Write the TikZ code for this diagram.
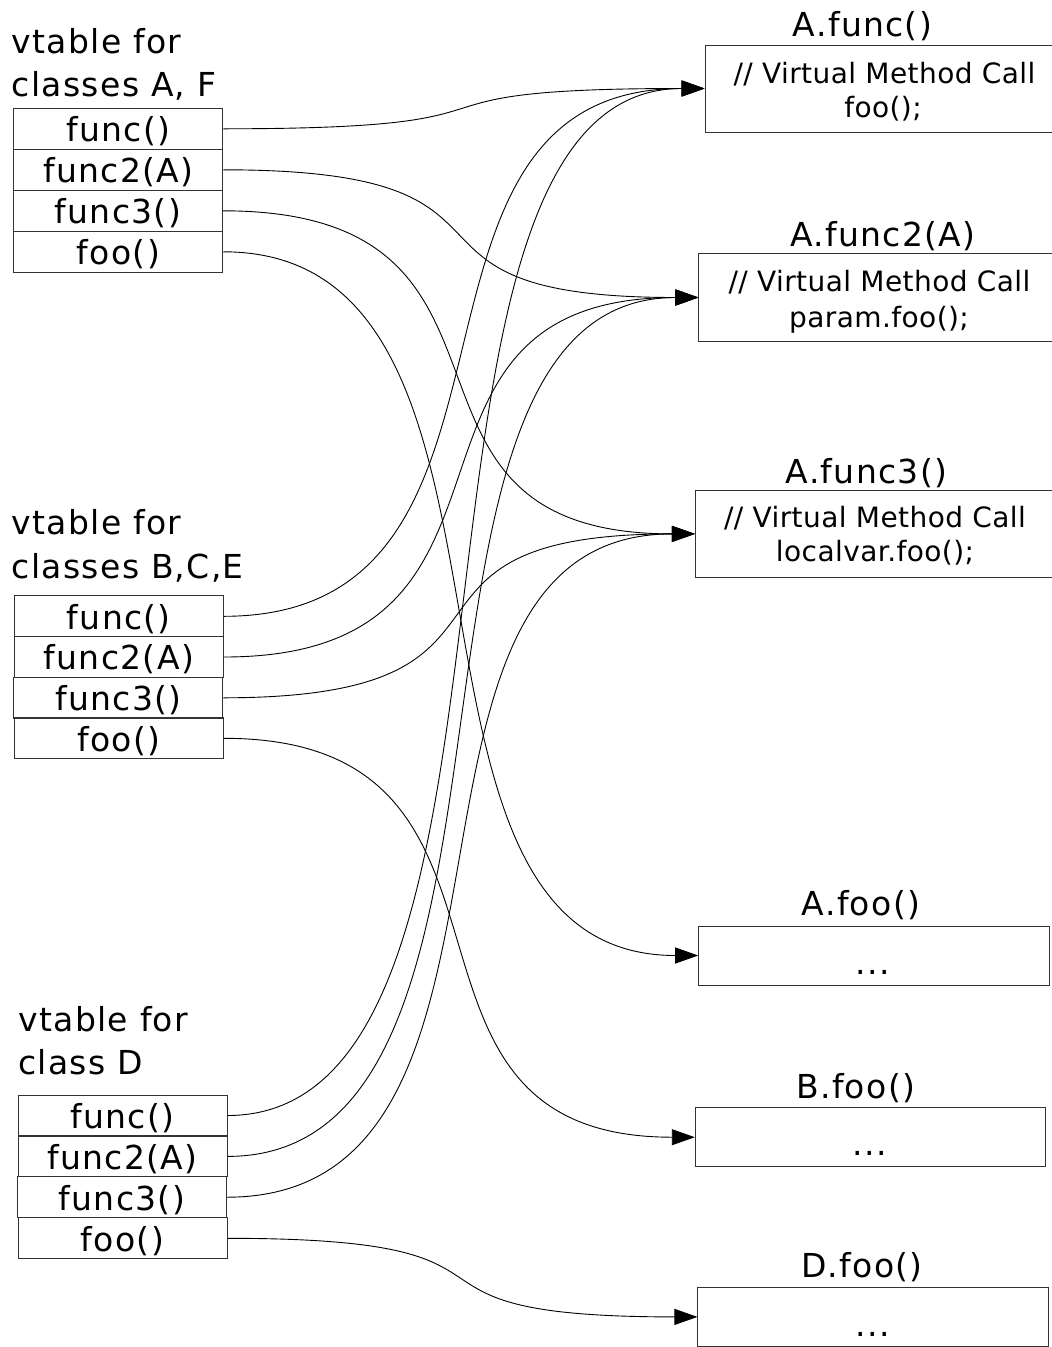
\documentclass[tikz,border=0pt]{standalone}
\usepackage{fontspec}
\setmainfont{DejaVu Sans}[LetterSpace=4]
\newfontfamily\codefamily{DejaVu Sans}[LetterSpace=1.5]
\usetikzlibrary{arrows.meta}

\newcommand\bigtxt{\fontsize{33}{40}\selectfont}
\newcommand\codetxt{\codefamily\fontsize{28}{34}\selectfont}

\tikzset{
  vrow/.style={draw=black!80, line width=1pt, minimum width=209pt,
    minimum height=41pt, inner sep=0pt, text height=28pt, text depth=2.4pt,
    font=\bigtxt},
  fnbox/.style={draw=black!80, line width=1pt, inner sep=0pt},
  heading/.style={anchor=base west, inner sep=0pt, font=\bigtxt},
  title/.style={anchor=base, inner sep=0pt, font=\bigtxt},
  code/.style={anchor=base, inner sep=0pt, font=\codetxt},
  conn/.style={line width=0.9pt, -{Triangle[length=23pt,width=16pt]}},
}

\begin{document}
\begin{tikzpicture}[x=1pt,y=-1pt]
\useasboundingbox (0,0) rectangle (1052,1347);

% ---------- vtable for classes A, F ----------
\node[heading] (hAFa) at (11.7,53.5) {vtable for};
\node[heading] (hAFb) at (11.7,96.5) {classes A, F};
\node[vrow] (af1) at (118.4,128.8) {func()};
\node[vrow] (af2) at (118.4,169.8) {func2(A)};
\node[vrow] (af3) at (117.8,210.8) {func3()};
\node[vrow] (af4) at (118.4,251.8) {foo()};

% ---------- vtable for classes B,C,E ----------
\node[heading] (hBCEa) at (11.7,534.5) {vtable for};
\node[heading] (hBCEb) at (11.7,578.3) {classes B,C,E};
\node[vrow] (bce1) at (118.9,616.3) {func()};
\node[vrow] (bce2) at (118.9,657) {func2(A)};
\node[vrow] (bce3) at (118.3,697.8) {func3()};
\node[vrow] (bce4) at (118.9,738.3) {foo()};

% ---------- vtable for class D ----------
\node[heading] (hDa) at (18.3,1031.3) {vtable for};
\node[heading] (hDb) at (18.3,1074) {class D};
\node[vrow] (d1) at (122.5,1115.5) {func()};
\node[vrow] (d2) at (122.5,1156.4) {func2(A)};
\node[vrow] (d3) at (121.9,1197.2) {func3()};
\node[vrow] (d4) at (122.5,1238.3) {foo()};

% ---------- method bodies ----------
\node[fnbox, minimum width=359pt, minimum height=87pt] (afunc) at (884.5,88.5) {};
\node[title] (tafunc) at (862.5,36) {A.func()};
\node[code] (cafunc1) at (884.5,83.5) {// Virtual Method Call};
\node[code] (cafunc2) at (883,117) {foo();};

\node[fnbox, minimum width=362pt, minimum height=88.4pt] (afunctwo) at (879.9,297.5) {};
\node[title] (tafunctwo) at (883,246.5) {A.func2(A)};
\node[code] (cafunctwo1) at (879.5,291) {// Virtual Method Call};
\node[code] (cafunctwo2) at (879,327) {param.foo();};

\node[fnbox, minimum width=359.4pt, minimum height=87.7pt] (afuncthree) at (875,533.9) {};
\node[title] (tafuncthree) at (866.5,483) {A.func3()};
\node[code] (cafuncthree1) at (875,527.5) {// Virtual Method Call};
\node[code] (cafuncthree2) at (875,561.5) {localvar.foo();};

\node[fnbox, minimum width=350.6pt, minimum height=59pt] (afoo) at (874,955.5) {};
\node[title] (tafoo) at (861,915) {A.foo()};
\node[title] (dafoo) at (873,974) {...};

\node[fnbox, minimum width=350.4pt, minimum height=59pt] (bfoo) at (870.5,1137.2) {};
\node[title] (tbfoo) at (855.7,1098) {B.foo()};
\node[title] (dbfoo) at (870,1155) {...};

\node[fnbox, minimum width=350.7pt, minimum height=58.3pt] (dfoo) at (873.3,1316.9) {};
\node[title] (tdfoo) at (862,1277) {D.foo()};
\node[title] (ddfoo) at (873,1336) {...};

% ---------- vtable slots to method bodies ----------
\draw[conn] (af1.east)  .. controls +(340,0) and +(-340,0) .. (afunc.west);
\draw[conn] (af2.east)  .. controls +(340,0) and +(-340,0) .. (afunctwo.west);
\draw[conn] (af3.east)  .. controls +(340,0) and +(-340,0) .. (afuncthree.west);
\draw[conn] (af4.east)  .. controls +(340,0) and +(-340,0) .. (afoo.west);

\draw[conn] (bce1.east) .. controls +(340,0) and +(-340,0) .. (afunc.west);
\draw[conn] (bce2.east) .. controls +(340,0) and +(-340,0) .. (afunctwo.west);
\draw[conn] (bce3.east) .. controls +(340,0) and +(-340,0) .. (afuncthree.west);
\draw[conn] (bce4.east) .. controls +(340,0) and +(-340,0) .. (bfoo.west);

\draw[conn] (d1.east)   .. controls +(340,0) and +(-340,0) .. (afunc.west);
\draw[conn] (d2.east)   .. controls +(340,0) and +(-340,0) .. (afunctwo.west);
\draw[conn] (d3.east)   .. controls +(340,0) and +(-340,0) .. (afuncthree.west);
\draw[conn] (d4.east)   .. controls +(340,0) and +(-340,0) .. (dfoo.west);
\end{tikzpicture}
\end{document}
